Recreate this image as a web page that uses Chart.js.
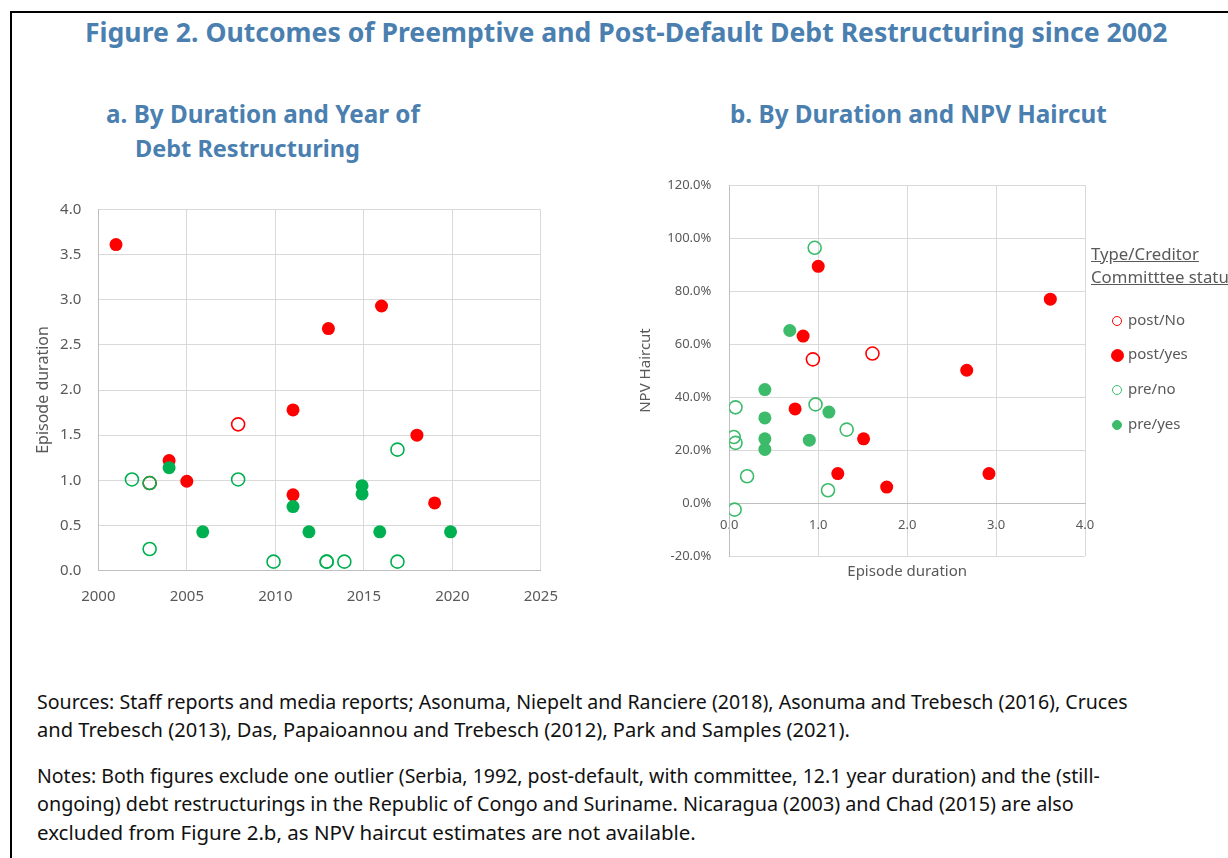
<!DOCTYPE html>
<html>
<head>
<meta charset="utf-8">
<script src="https://cdn.jsdelivr.net/npm/chart.js@4.4.0/dist/chart.umd.min.js"></script>
<style>
  body { margin: 0; width: 1228px; height: 858px; overflow: hidden; background: #fff; position: relative; font-family: "Noto Sans", sans-serif; }
  .frame { position: absolute; left: 10px; top: 11px; width: 1300px; height: 900px; border-top: 2px solid #000; border-left: 2px solid #000; }
  .t { position: absolute; white-space: nowrap; line-height: 1; }
  .ttl { color: #4a7fb0; font-weight: bold; font-size: 24px; }
  .note { color: #111; font-size: 19px; }
  .leg { color: #595959; font-size: 14px; }
  .u { text-decoration: underline; }
  .mk { position: absolute; border-radius: 50%; box-sizing: border-box; }
  canvas { position: absolute; }
</style>
</head>
<body>
<div class="frame"></div>

<div class="t ttl" data-w="1083" data-y="34" style="left:85px">Figure 2. Outcomes of Preemptive and Post-Default Debt Restructuring since 2002</div>
<div class="t ttl" data-w="314" data-y="115" style="left:106px">a. By Duration and Year of</div>
<div class="t ttl" data-w="225" data-y="150" style="left:135px">Debt Restructuring</div>
<div class="t ttl" data-w="377" data-y="115" style="left:730px">b. By Duration and NPV Haircut</div>

<canvas id="chartA" width="540" height="440" style="left:20px; top:185px"></canvas>
<canvas id="chartB" width="628" height="430" style="left:600px; top:165px"></canvas>

<div class="t leg u" id="legTitle1" data-w="108" data-y="255" style="left:1091px">Type/Creditor</div>
<div class="t leg u" id="legTitle2" data-y="278" style="left:1091px">Committtee status</div>
<div id="legend"></div>

<div class="t note" data-w="1091" data-y="703" style="left:37px">Sources: Staff reports and media reports; Asonuma, Niepelt and Ranciere (2018), Asonuma and Trebesch (2016), Cruces</div>
<div class="t note" data-w="813" data-y="731" style="left:37px">and Trebesch (2013), Das, Papaioannou and Trebesch (2012), Park and Samples (2021).</div>
<div class="t note" data-w="1063" data-y="777" style="left:37px">Notes: Both figures exclude one outlier (Serbia, 1992, post-default, with committee, 12.1 year duration) and the (still-</div>
<div class="t note" data-w="1037" data-y="805" style="left:37px">ongoing) debt restructurings in the Republic of Congo and Suriname. Nicaragua (2003) and Chad (2015) are also</div>
<div class="t note" data-w="659" data-y="833" style="left:37px">excluded from Figure 2.b, as NPV haircut estimates are not available.</div>

<script>
// series
const seriesNames = ['post/No', 'post/yes', 'pre/no', 'pre/yes'];
const seriesFilled = [false, true, false, true];
const colorsA = ['#ff0000', '#ff0000', '#00b050', '#00b050'];
const colorsB = ['#ff0000', '#ff0000', '#3cbb6b', '#3cbb6b'];

// a. year of restructuring vs episode duration (years)
const yearPostNo = [2002.9, 2007.9];
const durPostNo = [0.97, 1.62];
const yearPostYes = [2001, 2004, 2005, 2011, 2011, 2013, 2016, 2018, 2019];
const durPostYes = [3.61, 1.22, 0.99, 1.78, 0.84, 2.68, 2.93, 1.50, 0.75];
const yearPreNo = [2001.9, 2002.9, 2002.9, 2007.9, 2009.9, 2012.9, 2012.9, 2013.9, 2016.9, 2016.9];
const durPreNo = [1.01, 0.97, 0.24, 1.01, 0.10, 0.10, 0.10, 0.10, 1.34, 0.10];
const yearPreYes = [2004, 2005.9, 2011, 2011.9, 2014.9, 2014.9, 2015.9, 2019.9];
const durPreYes = [1.14, 0.43, 0.71, 0.43, 0.94, 0.85, 0.43, 0.43];

// b. episode duration vs NPV haircut (%)
const durPostNoB = [0.94, 1.61];
const cutPostNoB = [54.2, 56.4];
const durPostYesB = [1.00, 0.83, 0.74, 1.51, 1.22, 1.77, 2.67, 2.92, 3.61];
const cutPostYesB = [89.3, 63.0, 35.5, 24.2, 11.1, 6.0, 50.1, 11.1, 76.9];
const durPreNoB = [0.96, 0.97, 0.07, 0.05, 0.07, 0.20, 0.06, 1.32, 1.11];
const cutPreNoB = [96.3, 37.2, 36.1, 24.9, 22.7, 10.1, -2.5, 27.7, 4.8];
const durPreYesB = [0.68, 0.40, 0.40, 0.40, 0.40, 0.90, 1.12];
const cutPreYesB = [65.1, 42.8, 32.1, 24.2, 20.2, 23.7, 34.3];

// axis ticks
const yearTicks = [2000, 2025, 5];
const durTicks = [0, 4, 0.5];
const durTicksB = [0, 4, 1];
const cutTicks = [-20, 120, 20];

// fit text widths to the reference
document.querySelectorAll('.t').forEach(el => {
    let fs = parseFloat(getComputedStyle(el).fontSize);
    if (el.dataset.w) {
        fs = fs * (+el.dataset.w) / el.getBoundingClientRect().width;
        el.style.fontSize = fs + 'px';
    }
    if (el.id === 'legTitle2') {
        fs = parseFloat(document.getElementById('legTitle1').style.fontSize);
        el.style.fontSize = fs + 'px';
    }
    el.style.top = (+el.dataset.y - 0.55 * fs) + 'px';
});

Chart.defaults.font.family = '"Noto Sans", sans-serif';
Chart.defaults.color = '#595959';

const gridColor = '#d9d9d9';
const axisColor = '#bfbfbf';
const noTick = 'rgba(0,0,0,0)';

function pts(xs, ys) {
    return xs.map((x, i) => ({ x: x, y: ys[i] }));
}

function makeSets(groups, colors) {
    // green filled drawn on top, as in the original
    const drawOrder = [4, 3, 2, 1];
    return groups.map((g, i) => ({
        label: seriesNames[i],
        data: pts(g[0], g[1]),
        order: drawOrder[i],
        pointRadius: 6.5,
        pointHoverRadius: 6.5,
        pointBorderWidth: seriesFilled[i] ? 0 : 1.6,
        pointBorderColor: colors[i],
        pointBackgroundColor: seriesFilled[i] ? colors[i] : 'rgba(0,0,0,0)',
        showLine: false
    }));
}

// label gaps are made with invisible tick marks so they don't add layout padding
function grid(len) {
    return { color: gridColor, drawTicks: true, tickLength: len, tickColor: noTick };
}

new Chart(document.getElementById('chartA'), {
    type: 'scatter',
    data: {
        datasets: makeSets([
            [yearPostNo, durPostNo],
            [yearPostYes, durPostYes],
            [yearPreNo, durPreNo],
            [yearPreYes, durPreYes]
        ], colorsA)
    },
    options: {
        responsive: false,
        animation: false,
        layout: { padding: { left: 0, top: 24.3, right: 18.3, bottom: 0 } },
        plugins: { legend: { display: false }, tooltip: { enabled: false } },
        scales: {
            x: {
                type: 'linear',
                min: yearTicks[0], max: yearTicks[1],
                ticks: { stepSize: yearTicks[2], padding: 2, font: { size: 15 }, callback: v => String(v) },
                grid: grid(15),
                border: { color: axisColor },
                afterFit: s => { s.height = 54.3; }
            },
            y: {
                min: durTicks[0], max: durTicks[1],
                ticks: { stepSize: durTicks[2], padding: 2, font: { size: 15 }, callback: v => v.toFixed(1) },
                grid: grid(15),
                border: { color: axisColor },
                title: { display: true, text: 'Episode duration', font: { size: 16 }, padding: { top: 13.4, bottom: 0 } },
                afterFit: s => { s.width = 78.3; }
            }
        }
    }
});

new Chart(document.getElementById('chartB'), {
    type: 'scatter',
    data: {
        datasets: makeSets([
            [durPostNoB, cutPostNoB],
            [durPostYesB, cutPostYesB],
            [durPreNoB, cutPreNoB],
            [durPreYesB, cutPreYesB]
        ], colorsB)
    },
    options: {
        responsive: false,
        animation: false,
        layout: { padding: { left: 0, top: 20, right: 143, bottom: 0 } },
        plugins: { legend: { display: false }, tooltip: { enabled: false } },
        scales: {
            x: {
                type: 'linear',
                position: { y: 0 },
                min: durTicksB[0], max: durTicksB[1],
                ticks: { stepSize: durTicksB[2], padding: 2, font: { size: 13 }, callback: v => v.toFixed(1) },
                grid: grid(12),
                border: { color: axisColor }
            },
            xt: {
                type: 'linear',
                axis: 'x',
                position: 'bottom',
                min: durTicksB[0], max: durTicksB[1],
                ticks: { display: false },
                grid: { display: false },
                border: { display: false },
                title: { display: true, text: 'Episode duration', font: { size: 15 }, padding: { top: 0, bottom: 14 } },
                afterFit: s => { s.height = 39; }
            },
            y: {
                min: cutTicks[0], max: cutTicks[1],
                ticks: { stepSize: cutTicks[2], padding: 2, font: { size: 13 }, callback: v => v.toFixed(1) + '%' },
                grid: grid(16),
                border: { color: axisColor },
                title: { display: true, text: 'NPV Haircut', font: { size: 15 }, padding: { top: 36.6, bottom: 0 } },
                afterFit: s => { s.width = 129.3; }
            }
        }
    }
});

// legend for panel b
const legendTops = [320, 354, 389, 424];
const legendRadius = [5, 6.5, 5, 5];
const legend = document.getElementById('legend');
seriesNames.forEach((name, i) => {
    const r = legendRadius[i];
    const mk = document.createElement('div');
    mk.className = 'mk';
    mk.style.left = (1117 - r) + 'px';
    mk.style.top = (legendTops[i] + 1 - r) + 'px';
    mk.style.width = mk.style.height = (2 * r) + 'px';
    mk.style.border = '1.4px solid ' + colorsB[i];
    mk.style.background = seriesFilled[i] ? colorsB[i] : 'transparent';
    legend.appendChild(mk);
    const tx = document.createElement('div');
    tx.className = 't leg';
    tx.textContent = name;
    tx.style.left = '1128px';
    tx.style.fontSize = '15px';
    tx.style.top = (legendTops[i] - 0.55 * 15) + 'px';
    legend.appendChild(tx);
});
</script>
</body>
</html>
